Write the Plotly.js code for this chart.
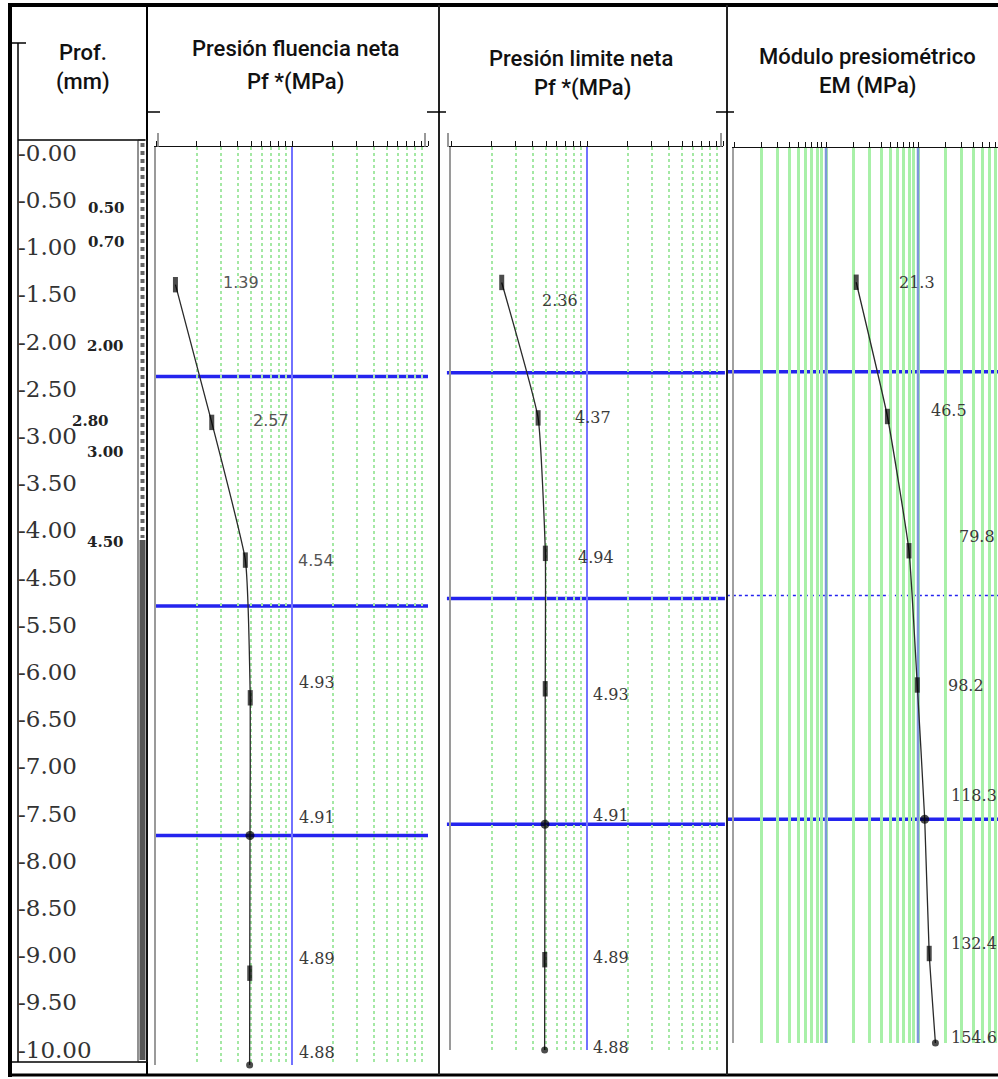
<!DOCTYPE html>
<html>
<head>
<meta charset="utf-8">
<script src="https://cdn.plot.ly/plotly-3.0.1.min.js"></script>
<style>html,body{margin:0;padding:0;background:#fff;}#chart{width:998px;height:1079px;}</style>
</head>
<body>
<div id="chart"></div>
<script>
// ---------------- DATA ----------------
const depths = [1.5, 3.0, 4.5, 6.0, 7.5, 9.0, 10.0];
const presionFluencia = [1.39, 2.57, 4.54, 4.93, 4.91, 4.89, 4.88];
const presionLimite = [2.36, 4.37, 4.94, 4.93, 4.91, 4.89, 4.88];
const moduloEM = [21.3, 46.5, 79.8, 98.2, 118.3, 132.4, 154.6];
const layerBoundaries = [2.5, 5.0, 7.5];
const depthTickLabels = ['-0.00','-0.50','-1.00','-1.50','-2.00','-2.50','-3.00','-3.50','-4.00','-4.50',
  '-5.50','-6.00','-6.50','-7.00','-7.50','-8.00','-8.50','-9.00','-9.50','-10.00'];
const strataLabels = ['0.50','0.70','2.00','2.80','3.00','4.50'];
const gridVals12 = [1,2,3,4,5,6,7,8,9,10,20,30,40,50,60,70,80,90,100];
const gridVals3 = [1,2,3,4,5,6,7,8,9,10,20,30,40,50,60,70,80,90,100,200,300,400,500,600,700];
const decadeLines12 = [10];
const decadeLines3 = [10, 100];
const colTitles = [['Prof.','(mm)'],['Presión fluencia neta','Pf *(MPa)'],['Presión limite neta','Pf *(MPa)'],['Módulo presiométrico','EM (MPa)']];

// ---------------- LAYOUT HELPERS ----------------
const W = 998, H = 1079;
const px = x => x / W;
const py = y => 1 - y / H;

// label pixel offsets (dx right, dy down) relative to each point
const off1 = [[46,-2],[39,-2],[51,0],[47,-15],[47,-18],[47,-15],[47,-13]];
const off2 = [[38,18],[35,0],[31,4],[46,6],[46,-9],[46,-2],[46,-3]];
const off3 = [[41,0],[42,-6],[48,-14],[29,0],[24,-24],[20,-10],[14,-6]];
const strataPos = [[86,208],[86,242],[85,346],[70,421],[85,452],[85,542]];
const titlePos = [[[83,52],[83,82]],[[295,48],[295,82]],[[581,58],[582,88]],[[867,57],[867,86]]];

function vlines(vals){const x=[],y=[];vals.forEach(v=>{x.push(v,v,null);y.push(0,10,null);});return {x,y};}

const traces = [];
const d1 = vlines(decadeLines12), d3 = vlines(decadeLines3);
traces.push({x:d1.x,y:d1.y,xaxis:'x',yaxis:'y',mode:'lines',line:{color:'#7272ff',width:2},hoverinfo:'skip',showlegend:false});
traces.push({x:d1.x,y:d1.y,xaxis:'x2',yaxis:'y2',mode:'lines',line:{color:'#7272ff',width:2},hoverinfo:'skip',showlegend:false});
traces.push({x:d3.x,y:d3.y,xaxis:'x3',yaxis:'y3',mode:'lines',line:{color:'#7d98da',width:2.5},hoverinfo:'skip',showlegend:false});

const sym = ['line-ns','line-ns','line-ns','line-ns','circle','line-ns','circle'];
const msize = [11,11,11,11,9,11,7];
const mlw = [5,5,5,5,0,5,0];
function series(vals, xa, ya){
  return {x:vals,y:depths,xaxis:xa,yaxis:ya,mode:'lines+markers',cliponaxis:false,
    line:{color:'#2a2a2a',width:1.3,shape:'spline',smoothing:0.4},
    marker:{symbol:sym,size:msize,color:'#000',line:{color:'#000',width:mlw}},
    hoverinfo:'x+y',showlegend:false};
}
traces.push(series(presionFluencia,'x','y'));
traces.push(series(presionLimite,'x2','y2'));
traces.push(series(moduloEM,'x3','y3'));

traces.push({x:depthTickLabels.map(()=>0),y:depthTickLabels.map((_,i)=>i),text:depthTickLabels,
  xaxis:'x4',yaxis:'y4',mode:'text',textposition:'middle right',
  textfont:{family:'DejaVu Serif',size:23,color:'#333'},hoverinfo:'skip',showlegend:false});

function xax(domain, range, grid, gcol, gw, gdash){
  return {type:'log',domain:domain,range:range,side:'top',showline:true,linecolor:'#111',linewidth:1.5,
    ticks:'outside',ticklen:5,tickcolor:'#111',tickwidth:1,tickvals:grid,showticklabels:false,
    showgrid:true,gridcolor:gcol,gridwidth:gw,griddash:gdash,zeroline:false,fixedrange:true};
}
function yax(top,bottom,lc){
  return {domain:[py(bottom),py(top)],range:[10,0],showline:true,linecolor:lc,linewidth:2,
    showticklabels:false,ticks:'',showgrid:false,zeroline:false,fixedrange:true};
}

const layout = {
  width:W,height:H,margin:{l:0,r:0,t:0,b:0},paper_bgcolor:'#fff',plot_bgcolor:'rgba(0,0,0,0)',
  showlegend:false,
  xaxis: xax([px(156),px(428)],[0,2],gridVals12,'#a4e8a4',1.6,'dot'),
  yaxis: yax(147,1065,'#9a9a9a'),
  xaxis2: xax([px(451),px(723)],[0,2],gridVals12,'#a4e8a4',1.6,'dot'),
  yaxis2: Object.assign(yax(147,1050,'#9a9a9a'),{anchor:'x2'}),
  xaxis3: xax([px(734),1],[0,(998-734)/92],gridVals3,'#a8f0a8',3,'solid'),
  yaxis3: Object.assign(yax(148,1043,'#a0a0a0'),{anchor:'x3'}),
  xaxis4: {domain:[px(18),px(137)],range:[0,1],visible:false,fixedrange:true},
  yaxis4: {domain:[py(1062),py(140)],range:[(1062-155)/47.2,(140-155)/47.2],visible:false,anchor:'x4',fixedrange:true},
  shapes:[],annotations:[]
};
layout.xaxis.anchor='y'; layout.xaxis2.anchor='y2'; layout.xaxis3.anchor='y3';

const bstyle = [
  {xr:'x',yr:'y',x0:0,x1:1,styles:[{w:3.5,d:'solid'},{w:3.5,d:'solid'},{w:3.5,d:'solid'}]},
  {xr:'x2',yr:'y2',x0:-0.015,x1:1.007,styles:[{w:3.5,d:'solid'},{w:3.5,d:'solid'},{w:3.5,d:'solid'}]},
  {xr:'x3',yr:'y3',x0:-0.027,x1:1,styles:[{w:3.5,d:'solid'},{w:1.5,d:'dot'},{w:3.5,d:'solid'}]}
];
bstyle.forEach(p=>{
  layerBoundaries.forEach((d,i)=>{
    layout.shapes.push({type:'line',xref:p.xr+' domain',yref:p.yr,x0:p.x0,x1:p.x1,y0:d,y1:d,layer:'below',
      line:{color:'#2424ee',width:p.styles[i].w,dash:p.styles[i].d}});
  });
});

function L(x0,y0,x1,y1,w,c,dash){layout.shapes.push({type:'line',xref:'paper',yref:'paper',x0:px(x0),y0:py(y0),x1:px(x1),y1:py(y1),line:{color:c||'#000',width:w,dash:dash||'solid'},layer:'above'});}
L(8,5,998,5,4);
L(10,3,10,1077,4);
L(8,1075,998,1075,3);
L(147,5,147,1075,2);
L(439,5,439,1075,2,'#222');
L(727,5,727,1075,2,'#222');
L(18,43,18,1062,1.5);
L(12,43,26,43,1.5);
L(18,140,145,140,1.5);
L(12,1062,147,1062,1.5);
layout.shapes.push({type:'rect',xref:'paper',yref:'paper',x0:px(138),x1:px(147),y0:py(140),y1:py(1062),line:{color:'#222',width:1},fillcolor:'rgba(0,0,0,0)',layer:'above'});
L(142.5,143,142.5,538,4,'#666','dot');
layout.shapes.push({type:'rect',xref:'paper',yref:'paper',x0:px(139.5),x1:px(145.5),y0:py(540),y1:py(1060),line:{width:0},fillcolor:'#555',layer:'above'});
L(147,112,160,112,1.5); L(427,112,439,112,1.5); L(439,112,446,112,1.5);
L(716,112,727,112,1.5); L(727,112,734,112,1.5);
L(158,133,158,147,1.5,'#777'); L(425,133,425,147,1.5,'#777');
L(448,133,448,147,1.5,'#777'); L(721,133,721,147,1.5,'#777');

function labels(vals, xa, ya, offs, fmt, fonts){
  vals.forEach((v,i)=>{
    layout.annotations.push({xref:xa,yref:ya,x:Math.log10(v),y:depths[i],text:v.toFixed(fmt),showarrow:false,
      xanchor:'left',yanchor:'middle',xshift:offs[i][0],yshift:-offs[i][1],font:fonts(i)});
  });
}
const serif = {family:'DejaVu Serif',size:16,color:'#3a3a3a'};
const sans = {family:'DejaVu Sans',size:16,color:'#555'};
labels(presionFluencia,'x','y',off1,2,i=> i<3 ? sans : serif);
labels(presionLimite,'x2','y2',off2,2,()=>serif);
labels(moduloEM,'x3','y3',off3,1,()=>serif);

strataLabels.forEach((t,i)=>{
  layout.annotations.push({xref:'paper',yref:'paper',x:px(strataPos[i][0]),y:py(strataPos[i][1]),text:'<b>'+t+'</b>',
    showarrow:false,xanchor:'left',yanchor:'middle',font:{family:'DejaVu Serif',size:15,color:'#222'}});
});
colTitles.forEach((lines,c)=>{
  lines.forEach((t,k)=>{
    layout.annotations.push({xref:'paper',yref:'paper',x:px(titlePos[c][k][0]),y:py(titlePos[c][k][1]),text:t,
      showarrow:false,xanchor:'center',yanchor:'middle',font:{family:'Roboto',size:22,color:'#111',weight:500}});
  });
});

Plotly.newPlot('chart',traces,layout,{staticPlot:true});
</script>
</body>
</html>
